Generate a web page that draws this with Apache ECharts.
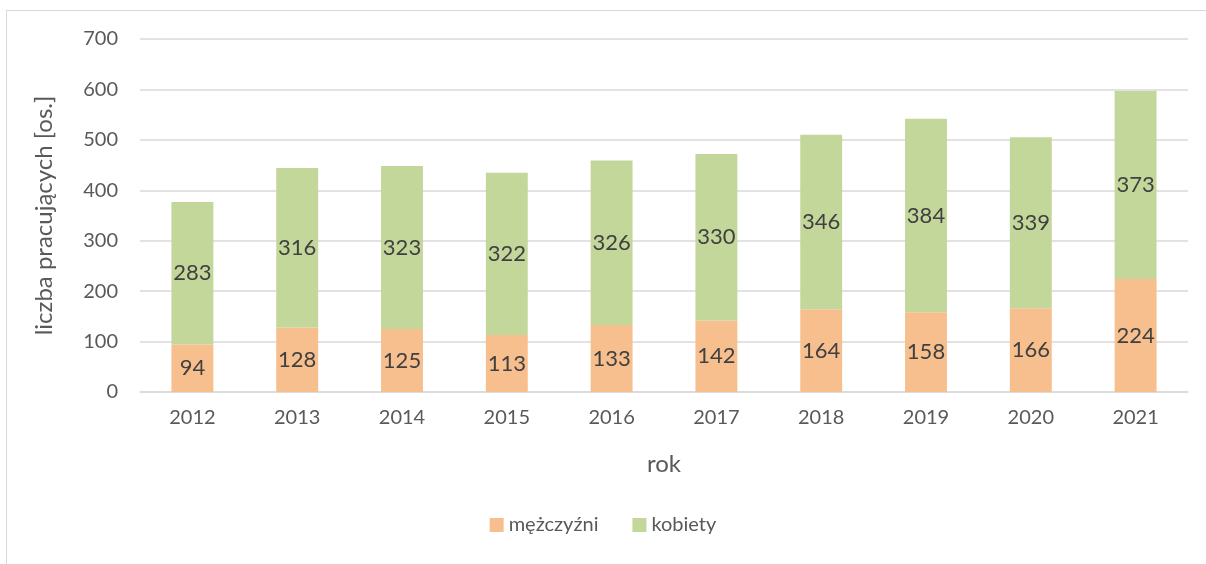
<!DOCTYPE html>
<html>
<head>
<meta charset="utf-8">
<script src="https://cdn.jsdelivr.net/npm/echarts@6/dist/echarts.min.js"></script>
<style>
  html, body { margin: 0; padding: 0; background: #fff; }
  #frame { position: absolute; left: 6px; top: 10px; width: 1400px; height: 800px; border: 1px solid #d9d9d9; box-sizing: border-box; }
  #chart { position: absolute; left: 0; top: 0; width: 1206px; height: 564px; }
</style>
</head>
<body>
<div id="frame"></div>
<div id="chart"></div>
<script>
var years = ['2012', '2013', '2014', '2015', '2016', '2017', '2018', '2019', '2020', '2021'];
var men = [94, 128, 125, 113, 133, 142, 164, 158, 166, 224];
var women = [283, 316, 323, 322, 326, 330, 346, 384, 339, 373];

var font = 'Lato, "Open Sans", sans-serif';
var chart = echarts.init(document.getElementById('chart'));
var labelStyle = {
    show: true,
    position: 'inside',
    color: '#404040',
    fontSize: 22,
    fontFamily: font
};
chart.setOption({
    backgroundColor: 'transparent',
    animation: false,
    textStyle: { fontFamily: font },
    grid: { left: 140, right: 18, top: 39, bottom: 172 },
    legend: {
        bottom: 24,
        left: 'center',
        itemWidth: 14,
        itemHeight: 14,
        itemGap: 34,
        icon: 'rect',
        textStyle: { color: '#595959', fontSize: 20, fontFamily: font },
        data: ['mężczyźni', 'kobiety']
    },
    xAxis: {
        type: 'category',
        data: years,
        name: 'rok',
        nameLocation: 'middle',
        nameGap: 60,
        nameTextStyle: { color: '#595959', fontSize: 24, fontFamily: font },
        axisLine: { lineStyle: { color: '#d9d9d9', width: 1.5 } },
        axisTick: { show: false },
        axisLabel: { color: '#595959', fontSize: 20, margin: 16, fontFamily: font }
    },
    yAxis: {
        type: 'value',
        min: 0,
        max: 700,
        interval: 100,
        name: 'liczba pracujących [os.]',
        nameLocation: 'middle',
        nameGap: 84,
        nameTextStyle: { color: '#595959', fontSize: 24, fontFamily: font },
        axisLine: { show: false },
        axisTick: { show: false },
        axisLabel: { color: '#595959', fontSize: 20, margin: 22, fontFamily: font },
        splitLine: { lineStyle: { color: '#d9d9d9', width: 1.5 } }
    },
    series: [{
        name: 'mężczyźni',
        type: 'bar',
        stack: 'all',
        barWidth: '40%',
        itemStyle: { color: '#f8bf8e' },
        label: labelStyle,
        data: men
    }, {
        name: 'kobiety',
        type: 'bar',
        stack: 'all',
        barWidth: '40%',
        itemStyle: { color: '#c4d79b' },
        label: labelStyle,
        data: women
    }]
});
</script>
</body>
</html>
